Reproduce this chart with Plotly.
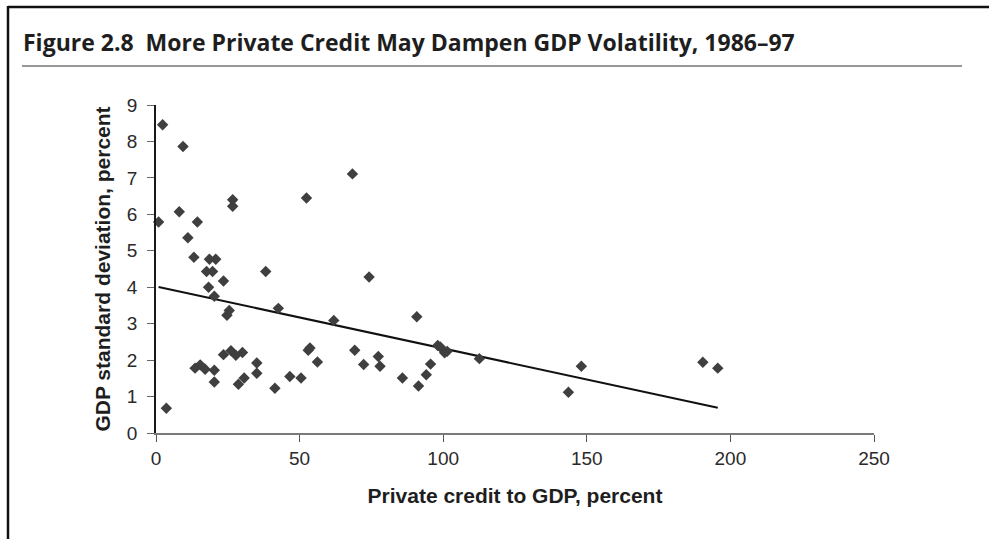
import plotly.graph_objects as go

# ---- data ----
credit_pct = [2.3, 9.4, 26.7, 26.7, 8.1, 0.9, 14.4, 11.1, 13.2, 18.6, 20.8, 38.2,
              52.4, 68.4, 74.2, 17.6, 19.7, 23.5, 18.3, 20.3, 25.5, 24.7, 42.6,
              3.6, 13.6, 15.4, 17.1, 20.3, 20.3, 23.5, 26.1, 27.8, 30.1, 28.7,
              30.7, 35.1, 35.1, 41.4, 46.6, 50.5, 53.0, 53.6, 56.2, 61.9, 90.8,
              69.2, 72.3, 77.4, 78.0, 85.8, 91.4, 94.1, 95.6, 98.1, 99.0, 100.5,
              101.4, 112.6, 143.6, 148.1, 190.4, 195.6]
gdp_sd = [8.46, 7.86, 6.40, 6.22, 6.07, 5.79, 5.79, 5.36, 4.82, 4.77, 4.77, 4.43,
          6.45, 7.11, 4.28, 4.43, 4.43, 4.17, 4.00, 3.75, 3.36, 3.23, 3.42,
          0.68, 1.78, 1.87, 1.75, 1.72, 1.40, 2.15, 2.26, 2.13, 2.21, 1.34,
          1.51, 1.92, 1.64, 1.23, 1.55, 1.51, 2.27, 2.33, 1.95, 3.09, 3.19,
          2.27, 1.88, 2.10, 1.83, 1.51, 1.29, 1.60, 1.89, 2.40, 2.36, 2.20,
          2.24, 2.04, 1.12, 1.83, 1.94, 1.78]

trend_intercept = 4.02
trend_slope = -0.0170
trend_x = [min(credit_pct), max(credit_pct)]
trend_y = [trend_intercept + trend_slope * v for v in trend_x]

x_ticks = [0, 50, 100, 150, 200, 250]
y_ticks = [0, 1, 2, 3, 4, 5, 6, 7, 8, 9]

title_text = "Figure 2.8  More Private Credit May Dampen GDP Volatility, 1986\u201397"
x_title = "Private credit to GDP, percent"
y_title = "GDP standard deviation, percent"

# ---- layout geometry (pixels) ----
W, H = 989, 539
ML, MR, MT, MB = 156, 115, 105, 106
PW, PH = W - ML - MR, H - MT - MB


def px(x):
    return (x - ML) / PW


def py(y):
    return (H - MB - y) / PH


fig = go.Figure()
fig.add_trace(go.Scatter(
    x=trend_x, y=trend_y, mode="lines",
    line=dict(color="#111111", width=2), hoverinfo="skip", showlegend=False))
fig.add_trace(go.Scatter(
    x=credit_pct, y=gdp_sd, mode="markers",
    marker=dict(symbol="diamond", size=8.8, color="#3f3f3f",
                line=dict(width=0)),
    showlegend=False, cliponaxis=False))

axis_font = dict(family="Liberation Sans, Arial, sans-serif", size=19, color="#2a2a2a")
title_font = dict(family="Liberation Sans, Arial, sans-serif", size=21, color="#1e1e1e",
                  weight="bold")

fig.update_layout(
    width=W, height=H, autosize=False,
    margin=dict(l=ML, r=MR, t=MT, b=MB, pad=0),
    paper_bgcolor="white", plot_bgcolor="white",
    xaxis=dict(range=[0, 250], tickvals=x_ticks, ticks="outside", ticklen=7,
               tickcolor="#555555", tickwidth=1, showline=True, linecolor="#7a7a7a",
               linewidth=2, showgrid=False, zeroline=False, tickfont=axis_font,
               title=dict(text=x_title, font=title_font, standoff=21)),
    yaxis=dict(range=[0, 9], tickvals=y_ticks, ticks="outside", ticklen=7,
               tickcolor="#666666", tickwidth=1, showline=True, linecolor="#1a1a1a",
               linewidth=1.5, showgrid=False, zeroline=False, tickfont=axis_font,
               ticklabelstandoff=6,
               title=dict(text=y_title, font=title_font, standoff=11)),
    shapes=[
        # outer frame (top and left rules)
        dict(type="line", xref="paper", yref="paper", x0=px(8), x1=px(989),
             y0=py(7), y1=py(7), line=dict(color="#111111", width=2.5)),
        dict(type="line", xref="paper", yref="paper", x0=px(8), x1=px(8),
             y0=py(6), y1=py(539), line=dict(color="#111111", width=2.5)),
        # rule under the figure title
        dict(type="line", xref="paper", yref="paper", x0=px(22), x1=px(962),
             y0=py(66), y1=py(66), line=dict(color="#333333", width=1.2)),
    ],
    annotations=[
        dict(text="<b>" + title_text + "</b>", xref="paper", yref="paper",
             x=px(21), y=py(60), xanchor="left", yanchor="bottom", showarrow=False,
             font=dict(family="Open Sans, Noto Sans, sans-serif", size=23,
                       color="#1e1e1e", weight=600)),
    ],
)

fig.write_html("out.html", config={"displayModeBar": False},
               post_script="document.body.style.margin='0';")
